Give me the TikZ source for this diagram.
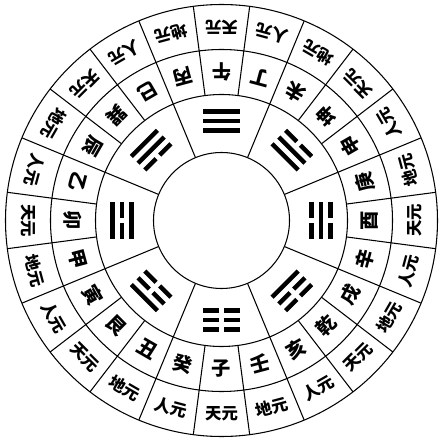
\documentclass[tikz,border=0pt]{standalone}
\usepackage{fontspec}
\newfontfamily\cjk{Noto Sans CJK SC}

\tikzset{
	mtn/.style={font=\cjk\bfseries\fontsize{16.5}{16.5}\selectfont,inner sep=0pt},
	yuan/.style={font=\cjk\bfseries\fontsize{14}{14}\selectfont,inner sep=0pt},
	yao/.style={line width=3.8pt}
}

\begin{document}
\begin{tikzpicture}[x=0.3mm,y=0.3mm,line width=0.9pt]
		\useasboundingbox (-221.5,-223.5) rectangle (222.5,220.5);

		%rings
		\draw (0,0) circle (68);
		\draw (0,0) circle (126);
		\draw (0,0) circle (171);
		\draw (0,0) circle (216);

		%spokes
		\foreach \k in {0,...,23}
			\draw (97.5+15*\k:126) -- (97.5+15*\k:216);
		\foreach \k in {0,...,7}
			\draw (22.5+45*\k:68) -- (22.5+45*\k:126);

		%trigrams, lines from outer to inner
		\foreach \ang/\p/\q/\r in {90/1/1/1, 135/1/1/0, 180/1/0/1, 225/1/0/0,
				270/0/0/0, 315/0/0/1, 0/0/1/0, 45/0/1/1} {
			\begin{scope}[rotate=\ang-90]
				\foreach \rad/\s in {109/\p, 99.5/\q, 90/\r} {
					\ifnum\s=1
						\draw[yao] (-18.5,\rad) -- (18.5,\rad);
					\else
						\draw[yao] (-18.5,\rad) -- (-2.5,\rad) (2.5,\rad) -- (18.5,\rad);
					\fi
				}
			\end{scope}
		}

		%mountains
		\node[mtn,rotate=180] (m1) at (90:148.5) {午};
		\node[mtn,rotate=165] (m2) at (75:148.5) {丁};
		\node[mtn,rotate=150] (m3) at (60:148.5) {未};
		\node[mtn,rotate=135] (m4) at (45:148.5) {坤};
		\node[mtn,rotate=120] (m5) at (30:148.5) {申};
		\node[mtn,rotate=105] (m6) at (15:148.5) {庚};
		\node[mtn,rotate=90] (m7) at (0:148.5) {酉};
		\node[mtn,rotate=75] (m8) at (-15:148.5) {辛};
		\node[mtn,rotate=60] (m9) at (-30:148.5) {戌};
		\node[mtn,rotate=45] (m10) at (-45:148.5) {乾};
		\node[mtn,rotate=30] (m11) at (-60:148.5) {亥};
		\node[mtn,rotate=15] (m12) at (-75:148.5) {壬};
		\node[mtn,rotate=0] (m13) at (-90:148.5) {子};
		\node[mtn,rotate=-15] (m14) at (-105:148.5) {癸};
		\node[mtn,rotate=-30] (m15) at (-120:148.5) {丑};
		\node[mtn,rotate=-45] (m16) at (-135:148.5) {艮};
		\node[mtn,rotate=-60] (m17) at (-150:148.5) {寅};
		\node[mtn,rotate=-75] (m18) at (-165:148.5) {甲};
		\node[mtn,rotate=-90] (m19) at (-180:148.5) {卯};
		\node[mtn,rotate=-105] (m20) at (-195:148.5) {乙};
		\node[mtn,rotate=-120] (m21) at (-210:148.5) {辰};
		\node[mtn,rotate=-135] (m22) at (-225:148.5) {巽};
		\node[mtn,rotate=-150] (m23) at (-240:148.5) {巳};
		\node[mtn,rotate=-165] (m24) at (-255:148.5) {丙};

		%outer ring
		\node[yuan,rotate=180] (y1) at (90:193.5) {天元};
		\node[yuan,rotate=165] (y2) at (75:193.5) {人元};
		\node[yuan,rotate=150] (y3) at (60:193.5) {地元};
		\node[yuan,rotate=135] (y4) at (45:193.5) {天元};
		\node[yuan,rotate=120] (y5) at (30:193.5) {人元};
		\node[yuan,rotate=105] (y6) at (15:193.5) {地元};
		\node[yuan,rotate=90] (y7) at (0:193.5) {天元};
		\node[yuan,rotate=75] (y8) at (-15:193.5) {人元};
		\node[yuan,rotate=60] (y9) at (-30:193.5) {地元};
		\node[yuan,rotate=45] (y10) at (-45:193.5) {天元};
		\node[yuan,rotate=30] (y11) at (-60:193.5) {人元};
		\node[yuan,rotate=15] (y12) at (-75:193.5) {地元};
		\node[yuan,rotate=0] (y13) at (-90:193.5) {天元};
		\node[yuan,rotate=-15] (y14) at (-105:193.5) {人元};
		\node[yuan,rotate=-30] (y15) at (-120:193.5) {地元};
		\node[yuan,rotate=-45] (y16) at (-135:193.5) {天元};
		\node[yuan,rotate=-60] (y17) at (-150:193.5) {人元};
		\node[yuan,rotate=-75] (y18) at (-165:193.5) {地元};
		\node[yuan,rotate=-90] (y19) at (-180:193.5) {天元};
		\node[yuan,rotate=-105] (y20) at (-195:193.5) {人元};
		\node[yuan,rotate=-120] (y21) at (-210:193.5) {地元};
		\node[yuan,rotate=-135] (y22) at (-225:193.5) {天元};
		\node[yuan,rotate=-150] (y23) at (-240:193.5) {人元};
		\node[yuan,rotate=-165] (y24) at (-255:193.5) {地元};

\end{tikzpicture}
\end{document}
